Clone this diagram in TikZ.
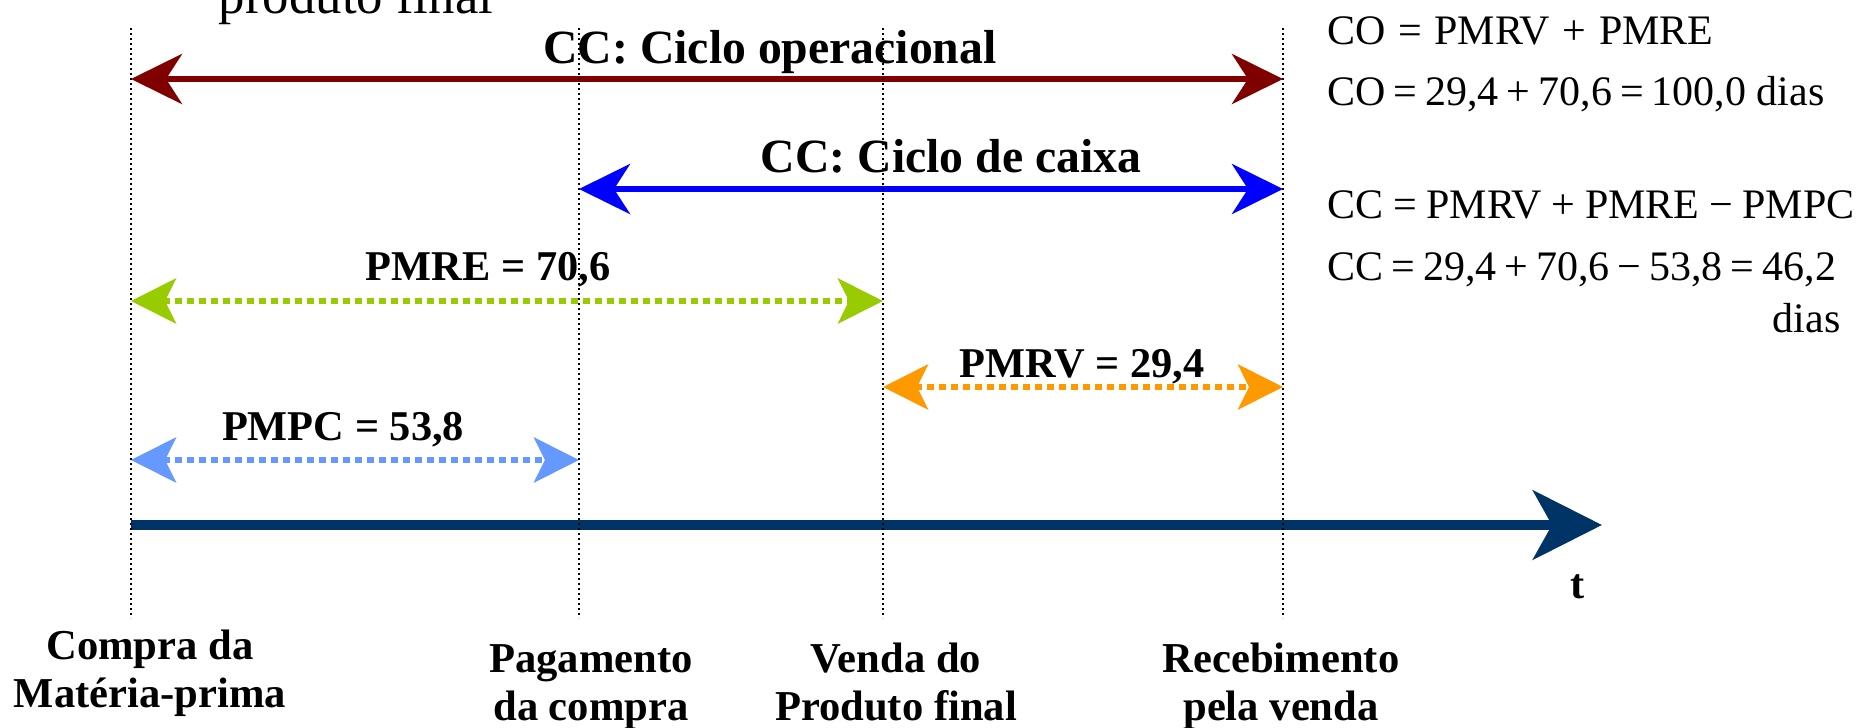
\documentclass[tikz,border=0pt]{standalone}
\usepackage{fontspec}
\setmainfont{Liberation Serif}
\usetikzlibrary{arrows.meta}
\definecolor{cored}{HTML}{800000}
\definecolor{ccblue}{HTML}{0000FF}
\definecolor{pmregreen}{HTML}{99CC00}
\definecolor{pmrvorange}{HTML}{FF9900}
\definecolor{pmpcblue}{HTML}{6699FF}
\definecolor{axisnavy}{HTML}{003366}
\newcommand\gp[1]{\hspace{#1em}}
\begin{document}
\begin{tikzpicture}[x=0.5pt,y=-0.5pt,
  vline/.style={line width=0.9pt, dash pattern=on 1.1pt off 1.4pt, black},
  bigarrow/.style={line width=3.3pt, {Stealth[length=25.5pt,width=25pt,inset=8pt]}-{Stealth[length=25.5pt,width=25pt,inset=8pt]}},
  dotarrow/.style={line width=3pt, dash pattern=on 3.5pt off 2.5pt, {Stealth[length=22.5pt,width=22.5pt,inset=5.5pt]}-{Stealth[length=22.5pt,width=22.5pt,inset=5.5pt]}},
  axisarrow/.style={line width=5.2pt, axisnavy, -{Stealth[length=34.5pt,width=34.5pt,inset=9.5pt]}},
  titletext/.style={font=\fontsize{23.85}{28}\selectfont\bfseries, inner sep=0pt, anchor=base},
  lbltext/.style={font=\fontsize{21.2}{25}\selectfont\bfseries, inner sep=0pt, anchor=base},
  evttext/.style={font=\fontsize{21.3}{24}\selectfont\bfseries, inner sep=0pt, anchor=base, align=center},
  eqtext/.style={font=\fontsize{21}{25}\selectfont, inner sep=0pt, anchor=base west},
]
\useasboundingbox (0,0) rectangle (1875,728);

% time marks
\coordinate (atop) at (131,28);  \coordinate (abot) at (131,618);
\coordinate (btop) at (579,28);  \coordinate (bbot) at (579,618);
\coordinate (ctop) at (883,28);  \coordinate (cbot) at (883,618);
\coordinate (dtop) at (1283,28); \coordinate (dbot) at (1283,618);

% arrow ends
\coordinate (col) at (131,79);  \coordinate (cor) at (1283,79);
\coordinate (ccl) at (579,189); \coordinate (ccr) at (1283,189);
\coordinate (rel) at (131,301); \coordinate (rer) at (883,301);
\coordinate (rvl) at (883,387); \coordinate (rvr) at (1283,387);
\coordinate (pcl) at (131,460); \coordinate (pcr) at (579,460);
\coordinate (axl) at (131,525); \coordinate (axr) at (1602,525);

% top cut text
\node[font=\fontsize{26.4}{30}\selectfont, inner sep=0pt, anchor=base] (toptxt) at (356,13) {produto final};

% arrows
\draw[bigarrow, cored] (col) -- (cor);
\draw[bigarrow, ccblue] (ccl) -- (ccr);
\draw[dotarrow, pmregreen] (rel) -- (rer);
\draw[dotarrow, pmrvorange] (rvl) -- (rvr);
\draw[dotarrow, pmpcblue] (pcl) -- (pcr);
\draw[axisarrow] (axl) -- (axr);

% labels
\node[titletext] (colbl) at (770,63) {CC: Ciclo operacional};
\node[titletext] (cclbl) at (951,172) {CC: Ciclo de caixa};
\node[lbltext] (relbl) at (488,280) {PMRE = 70,6};
\node[lbltext] (rvlbl) at (1082,377) {PMRV = 29,4};
\node[lbltext] (pclbl) at (343,440) {PMPC = 53,8};
\node[lbltext] (tlbl) at (1578,598) {t};

% events (base anchor = baseline of last line)
\node[evttext] (ev1) at (150,707) {Compra da\\Matéria-prima};
\node[evttext] (ev2) at (591,720) {Pagamento\\da compra};
\node[evttext] (ev3) at (896,720) {Venda do\\Produto final};
\node[evttext] (ev4) at (1281,720) {Recebimento\\pela venda};

% formulas
\node[eqtext] (eq1) at (1327,44) {CO\gp{.3}=\gp{.3}PMRV\gp{.3}+\gp{.3}PMRE};
\node[eqtext] (eq2) at (1327,105) {CO\gp{.19}=\gp{.19}29,4\gp{.19}+\gp{.19}70,6\gp{.19}=\gp{.19}100,0 dias};
\node[eqtext] (eq3) at (1327,218) {CC\gp{.23}=\gp{.23}PMRV\gp{.23}+\gp{.23}PMRE\gp{.23}−\gp{.23}PMPC};
\node[eqtext] (eq4) at (1327,280) {CC\gp{.19}=\gp{.19}29,4\gp{.19}+\gp{.19}70,6\gp{.19}−\gp{.19}53,8\gp{.19}=\gp{.19}46,2};
\node[font=\fontsize{21}{25}\selectfont, inner sep=0pt, anchor=base east] (eq5) at (1841,332) {dias};

% dotted time marks on top
\draw[vline] (atop) -- (abot);
\draw[vline] (btop) -- (bbot);
\draw[vline] (ctop) -- (cbot);
\draw[vline] (dtop) -- (dbot);
\end{tikzpicture}
\end{document}
